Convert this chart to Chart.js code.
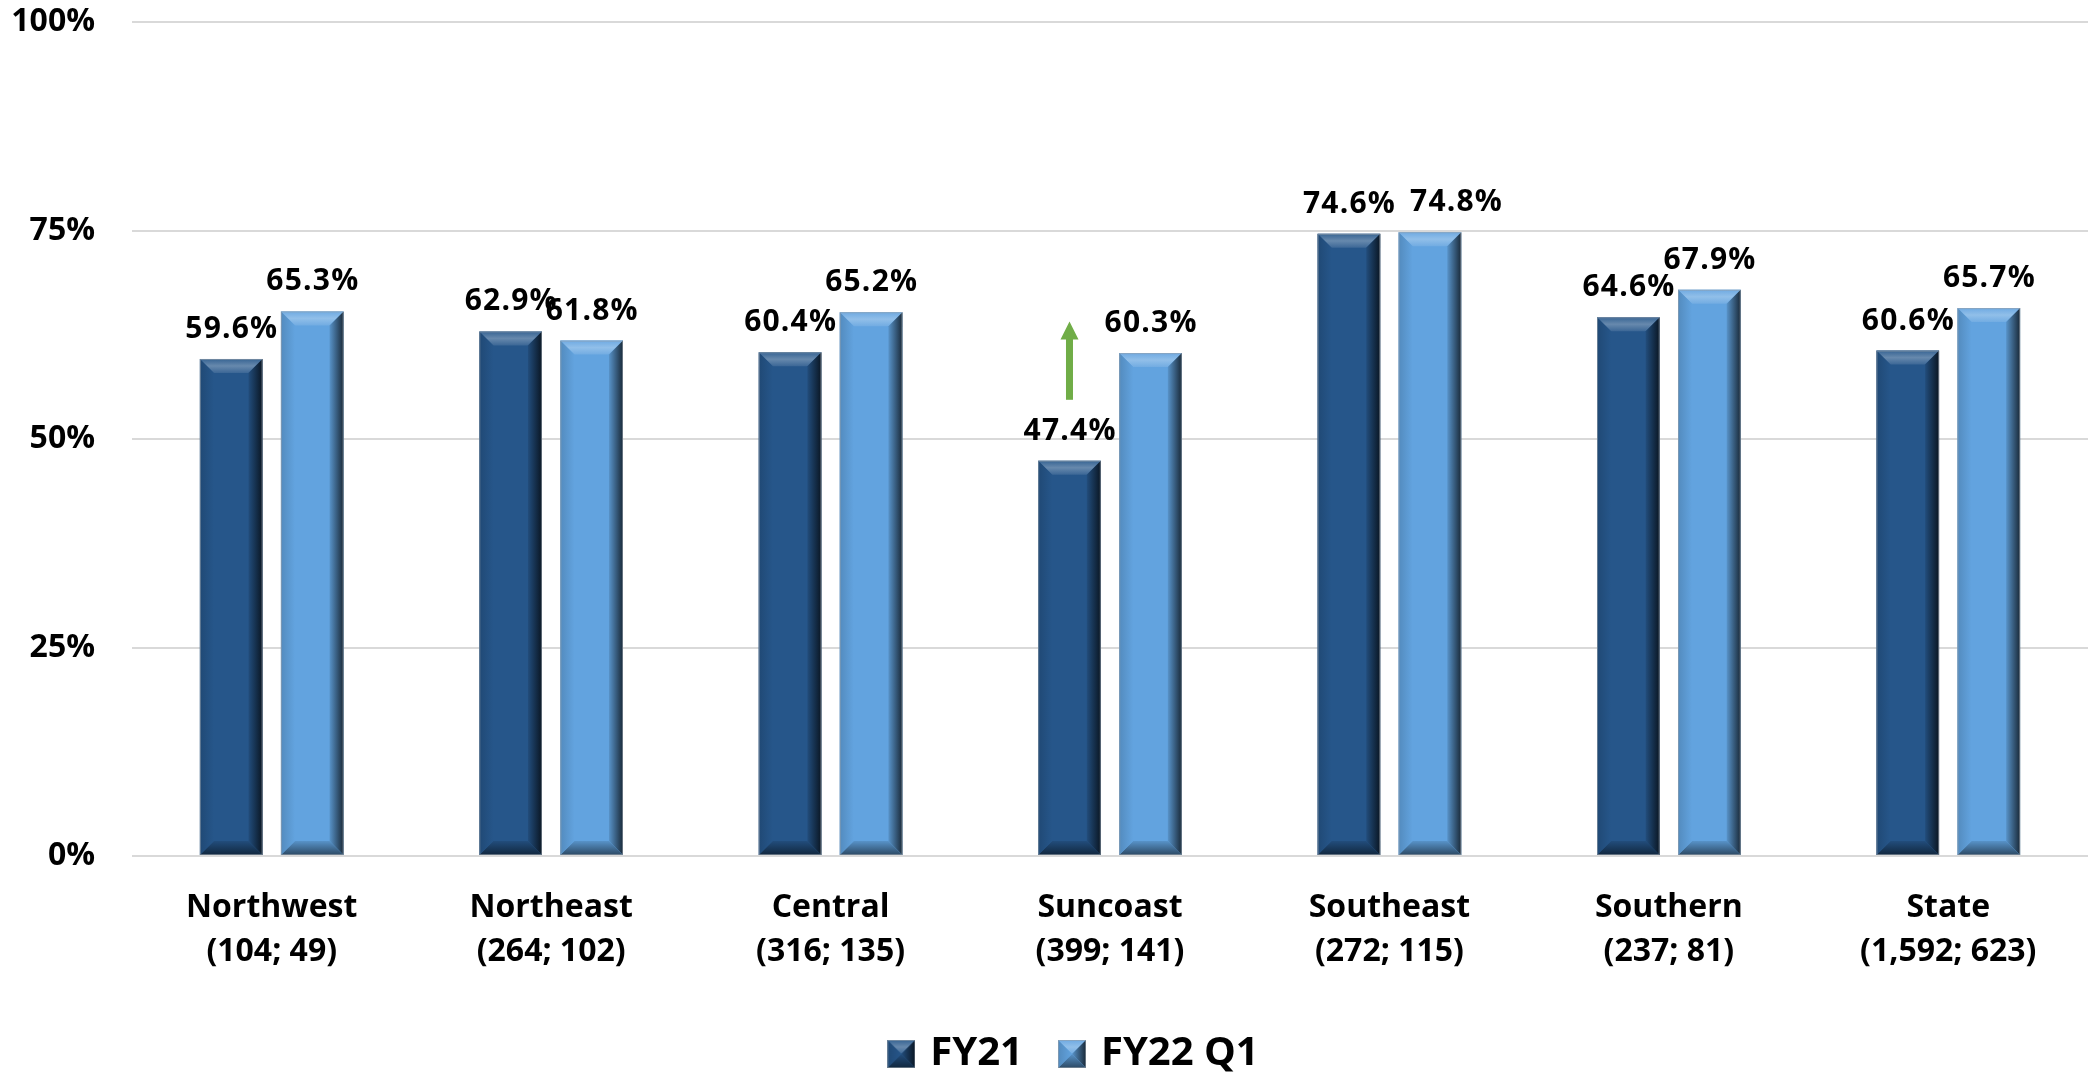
<!DOCTYPE html>
<html>
<head>
<meta charset="utf-8">
<script src="https://cdn.jsdelivr.net/npm/chart.js@4/dist/chart.umd.min.js"></script>
<style>
html,body{margin:0;padding:0;background:#fff;}
#c{display:block;}
</style>
</head>
<body>
<canvas id="c" width="2088" height="1074"></canvas>
<script>
const regions = ['Northwest','Northeast','Central','Suncoast','Southeast','Southern','State'];
const counts = ['(104; 49)','(264; 102)','(316; 135)','(399; 141)','(272; 115)','(237; 81)','(1,592; 623)'];
const seriesNames = ['FY21','FY22 Q1'];
const fy21 = [59.6, 62.9, 60.4, 47.4, 74.6, 64.6, 60.6];
const fy22q1 = [65.3, 61.8, 65.2, 60.3, 74.8, 67.9, 65.7];
const yTicks = [0, 25, 50, 75, 100];
// green "improvement" arrow next to Suncoast FY21 bar (value range in %)
const arrowCategory = 'Suncoast';
const arrowRange = [54.7, 64.1];

const FONT = '"Open Sans", "DejaVu Sans", sans-serif';
const baseColors = ['#26568A', '#62A3DF'];
// manual label nudges (px), as in the original: "datasetIndex-categoryIndex"
const labelNudge = { '1-4': 26 };

function shade(hex, amt) {
  const n = parseInt(hex.slice(1), 16);
  let r = (n >> 16) & 255, g = (n >> 8) & 255, b = n & 255;
  const f = v => Math.max(0, Math.min(255, Math.round(amt >= 0 ? v + (255 - v) * amt : v * (1 + amt))));
  return `rgb(${f(r)},${f(g)},${f(b)})`;
}

function bevelRect(ctx, l, t, r, btm, base, bsize, fillFace) {
  const w = r - l;
  const b = Math.min(bsize, (btm - t) / 2, w / 2);
  ctx.save();
  if (fillFace) { ctx.fillStyle = base; ctx.fillRect(l, t, w, btm - t); }
  let g = ctx.createLinearGradient(0, t, 0, t + b);
  g.addColorStop(0, shade(base, 0.08));
  g.addColorStop(0.5, shade(base, 0.3));
  g.addColorStop(1, shade(base, 0.1));
  ctx.fillStyle = g;
  ctx.beginPath();
  ctx.moveTo(l, t); ctx.lineTo(r, t); ctx.lineTo(r - b, t + b); ctx.lineTo(l + b, t + b); ctx.closePath(); ctx.fill();
  g = ctx.createLinearGradient(r - b, 0, r, 0);
  g.addColorStop(0, shade(base, -0.1));
  g.addColorStop(1, shade(base, -0.75));
  ctx.fillStyle = g;
  ctx.beginPath();
  ctx.moveTo(r, t); ctx.lineTo(r, btm); ctx.lineTo(r - b, btm - b); ctx.lineTo(r - b, t + b); ctx.closePath(); ctx.fill();
  g = ctx.createLinearGradient(0, btm - b, 0, btm);
  g.addColorStop(0, shade(base, -0.1));
  g.addColorStop(1, shade(base, -0.55));
  ctx.fillStyle = g;
  ctx.beginPath();
  ctx.moveTo(l, btm); ctx.lineTo(r, btm); ctx.lineTo(r - b, btm - b); ctx.lineTo(l + b, btm - b); ctx.closePath(); ctx.fill();
  g = ctx.createLinearGradient(l, 0, l + b, 0);
  g.addColorStop(0, shade(base, -0.15));
  g.addColorStop(1, shade(base, 0.0));
  ctx.fillStyle = g;
  ctx.beginPath();
  ctx.moveTo(l, t); ctx.lineTo(l + b, t + b); ctx.lineTo(l + b, btm - b); ctx.lineTo(l, btm); ctx.closePath(); ctx.fill();
  ctx.strokeStyle = 'rgba(150,160,170,0.6)';
  ctx.lineWidth = 1;
  ctx.strokeRect(l + 0.5, t + 0.5, w - 1, btm - t - 1);
  ctx.restore();
}

const legendIcons = baseColors.map(col => {
  const cv = document.createElement('canvas');
  cv.width = 28; cv.height = 28;
  bevelRect(cv.getContext('2d'), 0, 0, 28, 28, col, 14, true);
  return cv;
});

const legendShift = {
  id: 'legendShift',
  afterLayout(chart) {
    if (chart.legend) { chart.legend.left += 26; chart.legend.right += 26; }
  }
};

const bevelPlugin = {
  id: 'bevel',
  afterDatasetsDraw(chart) {
    const ctx = chart.ctx;
    chart.data.datasets.forEach((ds, di) => {
      const meta = chart.getDatasetMeta(di);
      meta.data.forEach(bar => {
        bevelRect(ctx, bar.x - bar.width / 2, bar.y, bar.x + bar.width / 2, bar.base, baseColors[di], 14, false);
      });
    });
    const ys = chart.scales.y;
    const ci = regions.indexOf(arrowCategory);
    const ax = chart.getDatasetMeta(0).data[ci].x;
    const y0 = ys.getPixelForValue(arrowRange[0]);
    const y1 = ys.getPixelForValue(arrowRange[1]);
    ctx.save();
    ctx.fillStyle = '#70AD47';
    ctx.fillRect(ax - 3.5, y1 + 17, 7, y0 - y1 - 17);
    ctx.beginPath();
    ctx.moveTo(ax, y1); ctx.lineTo(ax + 9, y1 + 18); ctx.lineTo(ax - 9, y1 + 18); ctx.closePath(); ctx.fill();
    ctx.restore();
    ctx.save();
    ctx.font = 'bold 30px ' + FONT;
    ctx.fillStyle = '#000';
    ctx.textAlign = 'center';
    ctx.textBaseline = 'alphabetic';
    const sp = 1.2;
    try { ctx.letterSpacing = sp + 'px'; } catch (e) {}
    chart.data.datasets.forEach((ds, di) => {
      const meta = chart.getDatasetMeta(di);
      meta.data.forEach((bar, i) => {
        const dx = labelNudge[di + '-' + i] || 0;
        ctx.fillText(ds.data[i].toFixed(1) + '%', bar.x + dx + sp / 2, bar.y - 21);
      });
    });
    ctx.restore();
  }
};

new Chart(document.getElementById('c'), {
  type: 'bar',
  data: {
    labels: regions.map((r, i) => [r, counts[i]]),
    datasets: [
      { label: seriesNames[0], data: fy21, backgroundColor: baseColors[0], borderWidth: 0 },
      { label: seriesNames[1], data: fy22q1, backgroundColor: baseColors[1], borderWidth: 0 }
    ]
  },
  options: {
    responsive: false,
    animation: false,
    devicePixelRatio: 1,
    layout: { padding: { top: 22, right: -11, left: 0, bottom: -10 } },
    datasets: { bar: { categoryPercentage: 0.58, barPercentage: 0.773 } },
    plugins: {
      legend: {
        position: 'bottom',
        labels: {
          usePointStyle: true,
          pointStyleWidth: 18,
          boxWidth: 28, boxHeight: 28, padding: 40,
          color: '#000',
          font: { family: FONT, size: 40, weight: 'bold' },
          generateLabels(chart) {
            return chart.data.datasets.map((ds, i) => ({
              text: ds.label, fillStyle: baseColors[i], strokeStyle: baseColors[i],
              pointStyle: legendIcons[i], lineWidth: 0, hidden: false, datasetIndex: i
            }));
          }
        }
      },
      tooltip: { enabled: false }
    },
    scales: {
      x: {
        grid: { display: false },
        border: { display: false },
        ticks: { color: '#000', font: { family: FONT, size: 32, weight: 'bold', lineHeight: 1.4 }, padding: 21, maxRotation: 0, autoSkip: false },
        afterFit(s) { s.height = 138; }
      },
      y: {
        min: 0, max: 100,
        afterBuildTicks(s) { s.ticks = yTicks.map(v => ({ value: v })); },
        grid: { color: '#D9D9D9', lineWidth: 2, drawTicks: true, tickLength: 37, tickColor: 'rgba(0,0,0,0)' },
        border: { display: false },
        ticks: { color: '#000', font: { family: FONT, size: 32, weight: 'bold' }, padding: 0, callback: v => v + '%' },
        afterFit(s) { s.width = 132; }
      }
    }
  },
  plugins: [legendShift, bevelPlugin]
});
</script>
</body>
</html>
